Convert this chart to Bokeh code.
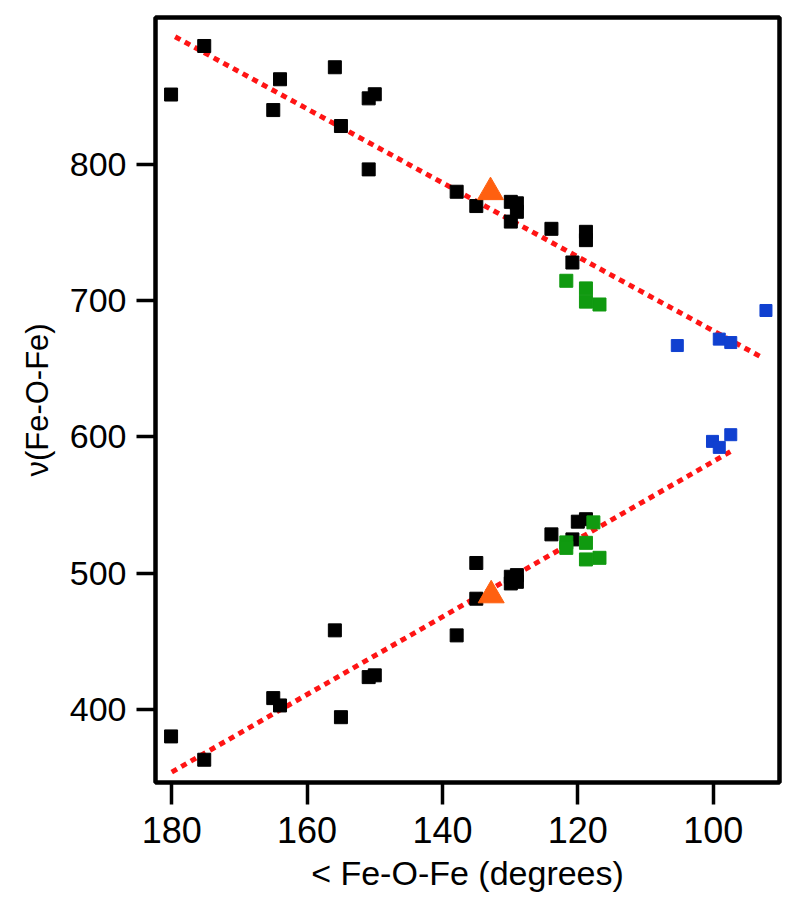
from bokeh.plotting import figure
from bokeh.models import Range1d, FixedTicker
from bokeh.embed import file_html
from bokeh.resources import INLINE

# Black squares (upper band)
black_up_x = [180.1, 175.2, 164.0, 165.0, 155.9, 150.9, 150.0, 155.0, 150.9, 137.9, 135.0,
              129.9, 129.0, 129.0, 129.9, 123.9, 118.8, 118.8, 120.8]
black_up_y = [851.0, 886.6, 862.2, 839.6, 871.0, 848.2, 851.2, 827.9, 796.1, 779.7, 769.2,
              772.3, 771.2, 765.0, 757.8, 752.5, 750.3, 744.2, 727.8]
# Black squares (lower band)
black_lo_x = [180.1, 175.2, 165.0, 164.0, 155.9, 155.0, 150.9, 150.0, 137.9, 135.0, 135.0,
              129.9, 129.0, 129.9, 129.0, 123.9, 120.0, 118.8, 120.8]
black_lo_y = [380.2, 363.1, 408.3, 402.9, 458.0, 394.3, 423.7, 425.0, 454.3, 507.4, 481.2,
              497.3, 498.5, 492.4, 493.6, 528.4, 537.7, 539.5, 524.7]
# Green squares
green_x = [121.7, 118.8, 118.8, 116.8, 121.7, 121.7, 117.7, 118.8, 118.8, 116.8]
green_y = [714.4, 708.8, 699.1, 697.0, 522.5, 518.5, 537.2, 522.2, 510.0, 511.2]
# Blue squares
blue_x = [105.3, 99.1, 97.4, 92.2, 100.1, 99.1, 97.4]
blue_y = [666.9, 671.6, 669.1, 692.6, 596.6, 592.2, 601.5]
# Orange triangles
tri_x = [132.9, 132.8]
tri_y = [779.4, 483.7]
# Dotted fit lines (endpoints)
fit_up_x = [179.5, 92.5]
fit_up_y = [893.4, 657.4]
fit_lo_x = [180.0, 97.4]
fit_lo_y = [354.0, 589.2]

x_ticks = [180, 160, 140, 120, 100]
y_ticks = [400, 500, 600, 700, 800]

FONT = "Liberation Sans"

p = figure(width=784, height=905, output_backend="svg", toolbar_location=None,
           x_range=Range1d(182.4, 90.2), y_range=Range1d(346.4, 907.5),
           min_border_left=155, min_border_right=5, min_border_top=17, min_border_bottom=123)

p.grid.visible = False
p.background_fill_color = "white"
p.border_fill_color = "white"
p.outline_line_color = "black"
p.outline_line_width = 4.5

p.line(fit_up_x, fit_up_y, line_color="#ff1414", line_width=5, line_dash="6 5")
p.line(fit_lo_x, fit_lo_y, line_color="#ff1414", line_width=5, line_dash="6 5")

p.scatter(black_up_x, black_up_y, marker="square", size=13, fill_color="black", line_color="black")
p.scatter(black_lo_x, black_lo_y, marker="square", size=13, fill_color="black", line_color="black")
p.scatter(green_x, green_y, marker="square", size=13, fill_color="#109a10", line_color="#109a10")
p.scatter(blue_x, blue_y, marker="square", size=12, fill_color="#1040d0", line_color="#1040d0")
p.scatter(tri_x, tri_y, marker="triangle", size=26, fill_color="#ff6010", line_color="#ff6010")

xa = p.xaxis[0]
xa.ticker = FixedTicker(ticks=x_ticks)
xa.axis_label = "< Fe-O-Fe (degrees)"
ya = p.yaxis[0]
ya.ticker = FixedTicker(ticks=y_ticks)
ya.axis_label = "ν(Fe-O-Fe)"

for ax in (xa, ya):
    ax.axis_line_color = None
    ax.minor_tick_line_color = None
    ax.major_tick_in = 0
    ax.major_tick_line_width = 3.5
    ax.major_tick_line_color = "black"
    ax.major_label_text_font = FONT
    ax.major_label_text_color = "black"
    ax.axis_label_text_font = FONT
    ax.axis_label_text_font_style = "normal"
    ax.axis_label_text_color = "black"

xa.major_tick_out = 22
ya.major_tick_out = 19
xa.major_label_text_font_size = "36px"
ya.major_label_text_font_size = "34px"
xa.major_label_standoff = 12
ya.major_label_standoff = 10
xa.axis_label_text_font_size = "34px"
ya.axis_label_text_font_size = "31px"
xa.axis_label_standoff = 8
ya.axis_label_standoff = 12

open("out.html", "w").write(file_html(p, INLINE))
